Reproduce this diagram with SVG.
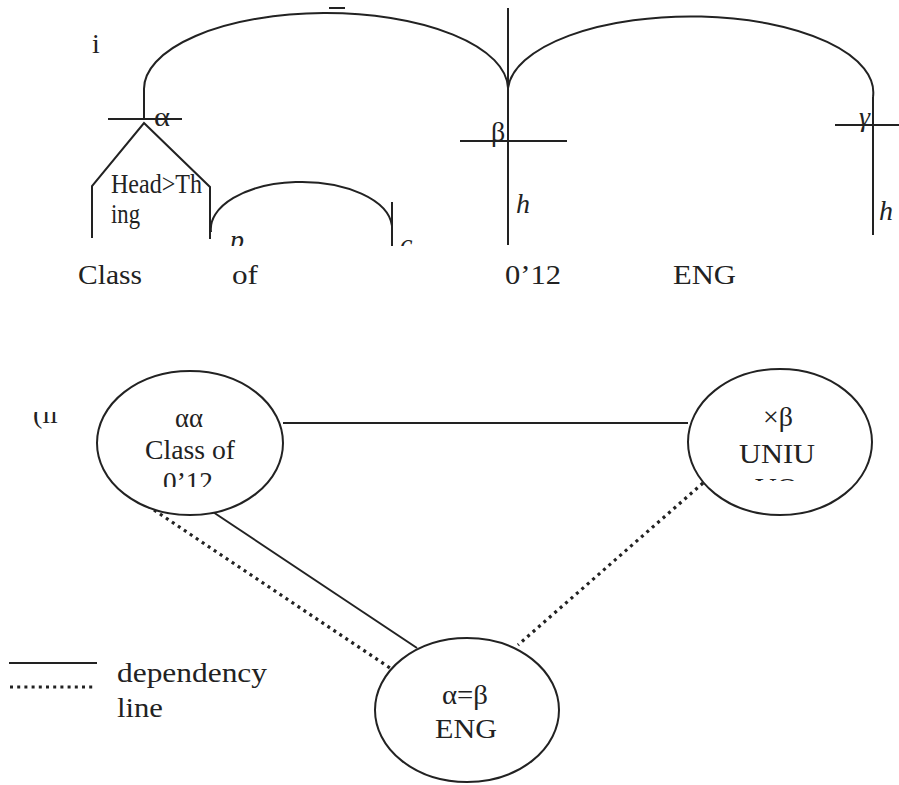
<svg xmlns="http://www.w3.org/2000/svg" width="899" height="785" viewBox="0 0 899 785">
<style>
.ln{fill:none;stroke:#222;stroke-width:2}
.dot{fill:none;stroke:#222;stroke-width:3.2;stroke-dasharray:3 4.2}
.nd{fill:#fff;stroke:#222;stroke-width:2}
text{font-family:"Liberation Serif","Times New Roman",serif;fill:#222;font-size:28px}
.it{font-style:italic}
.el{font-size:27px}
</style>
<defs>
<clipPath id="cpTop"><rect x="0" y="0" width="899" height="246"/></clipPath>
<clipPath id="cpII"><rect x="0" y="412" width="120" height="40"/></clipPath>
<clipPath id="cpE1"><rect x="100" y="460" width="180" height="27"/></clipPath>
<clipPath id="cpE2"><rect x="700" y="465" width="170" height="16"/></clipPath>
</defs>

<g id="tree">
  <text x="92" y="53" font-size="23">i</text>
  <line class="ln" x1="329" y1="8" x2="345" y2="8"/>
  <path class="ln" d="M144,119 V90 A182,76 0 0 1 508,88 A182.5,76 0 0 1 873,97"/>
  <line class="ln" x1="108" y1="119" x2="182" y2="119"/>
  <text x="154" y="126" font-size="26" textLength="16" lengthAdjust="spacingAndGlyphs">α</text>
  <path class="ln" d="M92,238 V186 L144,123 L210,187 V239"/>
  <text x="111" y="193" font-size="22" textLength="91" lengthAdjust="spacingAndGlyphs">Head&gt;Th</text>
  <text x="111" y="223" font-size="22" textLength="29" lengthAdjust="spacingAndGlyphs">ing</text>
  <path class="ln" d="M211,232 A90.5,47 0 0 1 392,226"/>
  <line class="ln" x1="392" y1="202" x2="392" y2="246"/>
  <g clip-path="url(#cpTop)">
    <text class="it" x="230" y="249" font-size="28">p</text>
    <text class="it" x="400" y="253" font-size="28">c</text>
  </g>
  <line class="ln" x1="508" y1="8" x2="508" y2="245"/>
  <line class="ln" x1="460" y1="141" x2="567" y2="141"/>
  <text x="491" y="141" font-size="26">β</text>
  <text class="it" x="516" y="213" font-size="28">h</text>
  <line class="ln" x1="873" y1="97" x2="873" y2="235"/>
  <line class="ln" x1="835" y1="125" x2="899" y2="125"/>
  <text class="it" x="859" y="126" font-size="26">γ</text>
  <text class="it" x="879" y="220" font-size="28">h</text>
  <text x="78" y="284" textLength="64" lengthAdjust="spacingAndGlyphs">Class</text>
  <text x="232" y="284" textLength="26" lengthAdjust="spacingAndGlyphs">of</text>
  <text x="505" y="284" textLength="56" lengthAdjust="spacingAndGlyphs">0’12</text>
  <text x="673" y="284" textLength="63" lengthAdjust="spacingAndGlyphs">ENG</text>
</g>

<g id="label-ii" clip-path="url(#cpII)">
  <text x="33" y="423" font-size="23">(ii</text>
</g>

<g id="connectors">
  <line class="ln" x1="283" y1="423" x2="688" y2="423"/>
  <line class="ln" x1="213" y1="512" x2="417" y2="648"/>
  <line class="dot" x1="148" y1="506" x2="390" y2="668"/>
  <line class="dot" x1="703" y1="483" x2="518" y2="645"/>
</g>

<g id="node-class">
  <ellipse class="nd" cx="190" cy="443" rx="93" ry="72"/>
  <text class="el" x="175" y="427" textLength="28" lengthAdjust="spacingAndGlyphs">αα</text>
  <text class="el" x="145" y="459" textLength="90" lengthAdjust="spacingAndGlyphs">Class of</text>
  <text class="el" x="163" y="491" clip-path="url(#cpE1)" textLength="50" lengthAdjust="spacingAndGlyphs">0’12</text>
</g>

<g id="node-uniu">
  <ellipse class="nd" cx="780" cy="442" rx="92" ry="73"/>
  <text class="el" x="763" y="426" textLength="30" lengthAdjust="spacingAndGlyphs">×β</text>
  <text class="el" x="739" y="463" textLength="76" lengthAdjust="spacingAndGlyphs">UNIU</text>
  <text class="el" x="755" y="497" clip-path="url(#cpE2)" textLength="43" lengthAdjust="spacingAndGlyphs">VO</text>
</g>

<g id="node-eng">
  <ellipse class="nd" cx="467" cy="710" rx="92" ry="72"/>
  <text class="el" x="442" y="704" textLength="46" lengthAdjust="spacingAndGlyphs">α=β</text>
  <text class="el" x="435" y="738" textLength="62" lengthAdjust="spacingAndGlyphs">ENG</text>
</g>

<g id="legend">
  <line class="ln" x1="9" y1="663" x2="97" y2="663"/>
  <line class="dot" x1="10" y1="687" x2="93" y2="687"/>
  <text class="el" x="117" y="682" textLength="150" lengthAdjust="spacingAndGlyphs">dependency</text>
  <text class="el" x="117" y="717" textLength="46" lengthAdjust="spacingAndGlyphs">line</text>
</g>
</svg>
